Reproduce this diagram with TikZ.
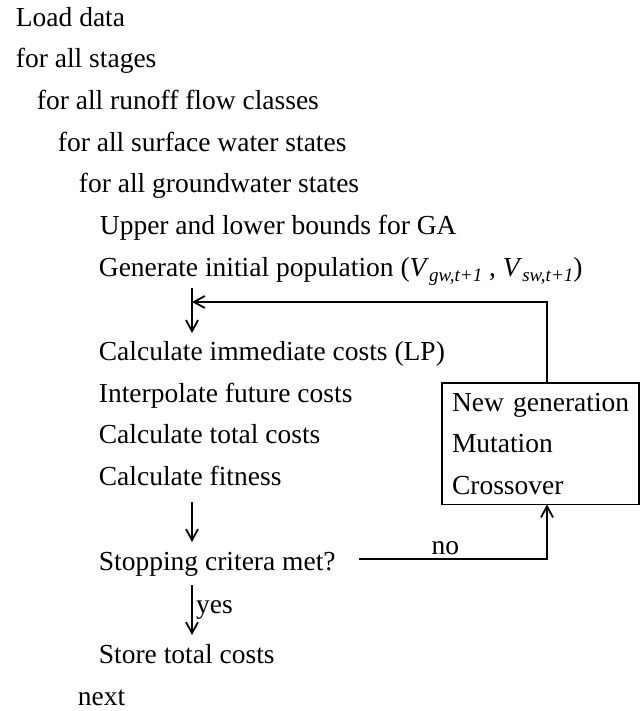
\documentclass[tikz,border=0pt]{standalone}
\usepackage{fontspec}
\setmainfont{Liberation Serif}
\usetikzlibrary{arrows.meta}
\newcommand{\Vsub}[1]{\textit{V}\raisebox{-5pt}{\fontsize{19}{19}\selectfont\textit{#1,t+1}}}
\begin{document}
\begin{tikzpicture}[x=1pt,y=-1pt,line width=1.8pt,>={Straight Barb[length=11pt,width=12pt]},
    font=\fontsize{27.5}{41.5}\selectfont,
    txt/.style={anchor=base west,inner sep=0pt}]
    \useasboundingbox (0,0) rectangle (641,711);
    \foreach \n/\x/\y/\t in {load/15/27/Load data, stages/15/68/for all stages,
        runoff/36/110/for all runoff flow classes, surface/57/152/for all surface water states,
        ground/78/193/for all groundwater states, bounds/99/234/Upper and lower bounds for GA,
        immed/98/360/Calculate immediate costs (LP), future/98/402/Interpolate future costs,
        total/98/443/Calculate total costs, fit/98/485/Calculate fitness,
        stop/98/570/Stopping critera met?, store/98/663/Store total costs, next/77/705/next}
        {\node[txt] (\n) at (\x,\y) {\t};}
    \node[txt] (init) at (98,276) {Generate initial population (\Vsub{gw} , \Vsub{sw})};
    \node[draw,anchor=north west,outer sep=0pt,inner sep=10pt,text width=177pt,align=left] (ga) at (442,383)
        {\hbox{New generation}\\Mutation\\Crossover};
    % arrow ends
    \coordinate (a1) at (192,288); \coordinate (a2) at (192,333);
    \coordinate (b1) at (192,502); \coordinate (b2) at (192,542);
    \coordinate (c1) at (192,585); \coordinate (c2) at (192,635);
    \coordinate (fb) at (547,302);
    \coordinate (no) at (359,559);
    \draw[->] (a1) -- (a2);
    \draw[->] (ga.north -| fb) -- (fb) -- (a1 |- fb);
    \draw[->] (b1) -- (b2);
    \draw[->] (c1) -- node[right]{yes} (c2);
    \draw[->] (no) -- node[above,pos=0.46]{no} (no -| fb) -- (ga.south -| fb);
\end{tikzpicture}
\end{document}
